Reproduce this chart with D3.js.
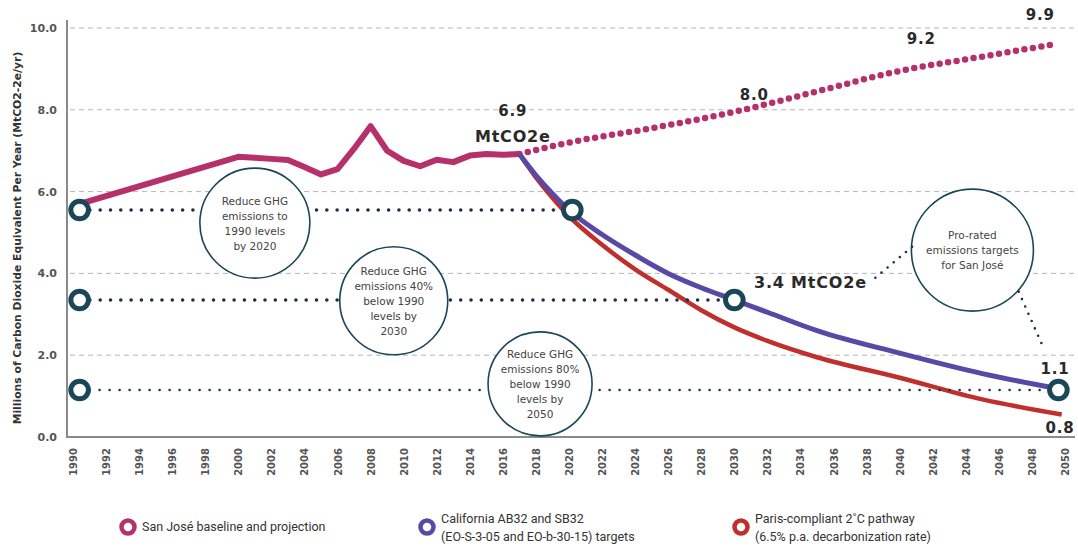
<!DOCTYPE html>
<html><head><meta charset="utf-8">
<script src="https://cdn.jsdelivr.net/npm/d3@7/dist/d3.min.js"></script>
<style>body{margin:0;background:#fff}svg{display:block}</style>
</head><body>
<svg id="chart" width="1078" height="557"></svg>
<script>
// ---------- data ----------
const baselineYears  = [1990, 2000, 2001, 2002, 2003, 2004, 2005, 2006, 2007, 2008, 2009, 2010, 2011, 2012, 2013, 2014, 2015, 2016, 2017];
const baselineValues = [5.65, 6.85, 6.83, 6.8, 6.77, 6.6, 6.42, 6.55, 7.05, 7.6, 7.0, 6.75, 6.62, 6.78, 6.72, 6.88, 6.92, 6.9, 6.92];

const projectionYears  = [2017, 2020, 2025, 2030, 2035, 2040, 2045, 2049.3];
const projectionValues = [6.92, 7.2, 7.55, 7.95, 8.45, 8.95, 9.3, 9.6];

const californiaYears  = [2017, 2018, 2019, 2020, 2022, 2024, 2026, 2028, 2030, 2032, 2035, 2040, 2045, 2049.6];
const californiaValues = [6.92, 6.4, 5.95, 5.55, 4.95, 4.45, 4.0, 3.65, 3.35, 3.05, 2.6, 2.05, 1.55, 1.18];

const parisYears  = [2017, 2018, 2019, 2020, 2022, 2024, 2026, 2028, 2030, 2032, 2035, 2040, 2045, 2049.8];
const parisValues = [6.92, 6.35, 5.85, 5.4, 4.7, 4.1, 3.6, 3.1, 2.68, 2.35, 1.95, 1.45, 0.92, 0.55];

const targetFrom   = [1990.4, 1990.4, 1990.4];
const targetTo     = [2020.2, 2030, 2049.6];
const targetValues = [5.55, 3.35, 1.15];

const yTicks = [0, 2, 4, 6, 8, 10];
const xTicks = d3.range(1990, 2051, 2);

const pointLabels = ["6.9", "MtCO2e", "8.0", "9.2", "9.9", "3.4 MtCO2e", "1.1", "0.8"];
const pointLabelYears  = [2016.6, 2016.6, 2031.2, 2041.3, 2048.5, 2034.6, 2049.4, 2049.7];
const pointLabelValues = [7.85, 7.22, 8.25, 9.6, 10.2, 3.65, 1.55, 0.1];

const noteTexts = [
  ["Reduce GHG", "emissions to", "1990 levels", "by 2020"],
  ["Reduce GHG", "emissions 40%", "below 1990", "levels by", "2030"],
  ["Reduce GHG", "emissions 80%", "below 1990", "levels by", "2050"],
  ["Pro-rated", "emissions targets", "for San José"]
];
const noteYears  = [2001.0, 2009.4, 2018.25, 2044.4];
const noteValues = [5.23, 3.33, 1.3, 4.57];

const legendLabels = [
  ["San José baseline and projection"],
  ["California AB32 and SB32", "(EO-S-3-05 and EO-b-30-15) targets"],
  ["Paris-compliant 2˚C pathway", "(6.5% p.a. decarbonization rate)"]
];

const yTitle = "Millions of Carbon Dioxide Equivalent Per Year (MtCO2-2e/yr)";

// ---------- styles ----------
const PINK = "#b6306c", BLUE = "#5949a6", RED = "#bf2f2c", TEAL = "#1b4658", DOT = "#1f2f45";

const svg = d3.select("#chart");
const x = d3.scaleLinear().domain([1990, 2050]).range([73, 1065]);
const y = d3.scaleLinear().domain([0, 10]).range([437, 28]);

// grid
svg.append("g").selectAll("line").data(yTicks.filter(d => d > 0)).join("line")
  .attr("x1", 70).attr("x2", 1075)
  .attr("y1", d => y(d)).attr("y2", d => y(d))
  .attr("stroke", "#b5b5b5").attr("stroke-width", 1).attr("stroke-dasharray", "5 4");

// axes lines
svg.append("line").attr("x1", 67).attr("x2", 67).attr("y1", 20).attr("y2", y(0) + 1)
  .attr("stroke", "#8a8a8a").attr("stroke-width", 2);
svg.append("line").attr("x1", 66).attr("x2", 1075).attr("y1", y(0)).attr("y2", y(0))
  .attr("stroke", "#8a8a8a").attr("stroke-width", 2);

// y axis labels
const yAxis = svg.append("g").attr("transform", "translate(67,0)")
  .call(d3.axisLeft(y).tickValues(yTicks).tickFormat(d3.format(".1f")).tickSize(0).tickPadding(10));
yAxis.select(".domain").remove();
yAxis.selectAll("text").attr("font-family", "DejaVu Sans").attr("font-weight", "bold")
  .attr("font-size", 11).attr("fill", "#555");

// x axis labels
const xAxis = svg.append("g").attr("transform", `translate(0,${y(0)})`)
  .call(d3.axisBottom(x).tickValues(xTicks).tickFormat(d3.format("d")).tickSize(0));
xAxis.select(".domain").remove();
xAxis.selectAll("text").attr("font-family", "DejaVu Sans").attr("font-weight", "bold")
  .attr("font-size", 10).attr("fill", "#555")
  .attr("text-anchor", "end").attr("transform", "rotate(-90)")
  .attr("x", -11).attr("y", 0).attr("dy", "0.35em");

// y title
svg.append("text").attr("transform", "translate(21,238) rotate(-90)")
  .attr("text-anchor", "middle").attr("font-family", "DejaVu Sans").attr("font-weight", "bold")
  .attr("font-size", 10.8).attr("fill", "#333").text(yTitle);

// lines
const zip = (xs, vs) => xs.map((d, i) => [d, vs[i]]);
const line = d3.line().x(d => x(d[0])).y(d => y(d[1]));
const curve = d3.line().x(d => x(d[0])).y(d => y(d[1])).curve(d3.curveMonotoneX);

svg.append("path").datum(zip(baselineYears, baselineValues)).attr("d", line)
  .attr("fill", "none").attr("stroke", PINK).attr("stroke-width", 6).attr("stroke-linejoin", "round");
svg.append("path").datum(zip(projectionYears, projectionValues)).attr("d", curve)
  .attr("fill", "none").attr("stroke", PINK).attr("stroke-width", 6.5)
  .attr("stroke-linecap", "round").attr("stroke-dasharray", "0 8.6");
svg.append("path").datum(zip(parisYears, parisValues)).attr("d", curve)
  .attr("fill", "none").attr("stroke", RED).attr("stroke-width", 4.5).attr("stroke-linecap", "butt");
svg.append("path").datum(zip(californiaYears, californiaValues)).attr("d", curve)
  .attr("fill", "none").attr("stroke", BLUE).attr("stroke-width", 5).attr("stroke-linecap", "butt");

// target dotted lines
targetValues.forEach((v, i) => {
  svg.append("line").attr("x1", x(targetFrom[i])).attr("x2", x(targetTo[i]))
    .attr("y1", y(v)).attr("y2", y(v))
    .attr("stroke", DOT).attr("stroke-linecap", "round")
    .attr("stroke-width", i < 2 ? 3.6 : 2.6)
    .attr("stroke-dasharray", i < 2 ? "0 10.3" : "0 10");
});

// annotation circles
const noteR = [55, 54, 52, 61];
noteTexts.forEach((lines, i) => {
  const cx = x(noteYears[i]), cy = y(noteValues[i]);
  svg.append("circle").attr("cx", cx).attr("cy", cy).attr("r", noteR[i])
    .attr("fill", "#fff").attr("stroke", TEAL).attr("stroke-width", 1.6);
  const lh = 15;
  const t = svg.append("text").attr("text-anchor", "middle").attr("font-family", "DejaVu Sans")
    .attr("font-size", 10.5).attr("fill", "#444");
  lines.forEach((s, j) => {
    t.append("tspan").attr("x", cx).attr("y", cy + 4 + (j - (lines.length - 1) / 2) * lh).text(s);
  });
});

// connectors from "Pro-rated" circle
const connFromYears = [2040.75, 2047.2], connFromVals = [4.65, 3.55];
const connToYears = [2038.4, 2048.7], connToVals = [3.85, 2.18];
connFromYears.forEach((d, i) => {
  svg.append("line").attr("x1", x(d)).attr("y1", y(connFromVals[i]))
    .attr("x2", x(connToYears[i])).attr("y2", y(connToVals[i]))
    .attr("stroke", DOT).attr("stroke-width", 2.6).attr("stroke-linecap", "round")
    .attr("stroke-dasharray", "0 8");
});

// target rings
const ringYears = [1990.4, 2020.2, 1990.4, 2030, 1990.4, 2049.6];
const ringVals  = [5.55, 5.55, 3.35, 3.35, 1.15, 1.15];
svg.append("g").selectAll("circle").data(ringYears).join("circle")
  .attr("cx", d => x(d)).attr("cy", (d, i) => y(ringVals[i])).attr("r", 8.8)
  .attr("fill", "#fff").attr("stroke", TEAL).attr("stroke-width", 5);

// value labels
pointLabels.forEach((s, i) => {
  svg.append("text").attr("x", x(pointLabelYears[i])).attr("y", y(pointLabelValues[i]))
    .attr("text-anchor", "middle")
    .attr("font-family", "DejaVu Sans").attr("font-weight", "bold")
    .attr("font-size", i === 5 || i === 1 ? 16 : 15).attr("letter-spacing", 0.8)
    .attr("fill", "#2a2a2a").text(s);
});

// legend
const legendX = [128, 427, 741];
const legendColors = [PINK, BLUE, RED];
legendLabels.forEach((lines, i) => {
  svg.append("circle").attr("cx", legendX[i]).attr("cy", 527).attr("r", 6.5)
    .attr("fill", "#fff").attr("stroke", legendColors[i]).attr("stroke-width", 4.5);
  const t = svg.append("text").attr("font-family", "Roboto").attr("font-size", 12.5).attr("fill", "#333");
  lines.forEach((s, j) => {
    t.append("tspan").attr("x", legendX[i] + 14)
      .attr("y", lines.length === 1 ? 531 : 523 + j * 18).text(s);
  });
});
</script>
</body></html>
